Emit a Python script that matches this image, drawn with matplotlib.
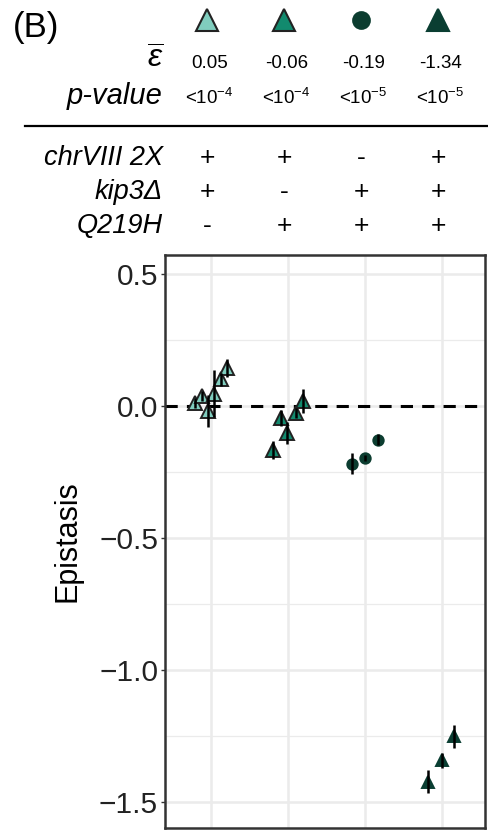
import matplotlib
matplotlib.use('Agg')
import matplotlib.pyplot as plt
import matplotlib.transforms as mtransforms
from matplotlib.lines import Line2D

plt.rcParams['font.family'] = ['Liberation Sans', 'DejaVu Sans']
plt.rcParams['mathtext.fontset'] = 'custom'
plt.rcParams['mathtext.rm'] = 'Liberation Sans'
plt.rcParams['mathtext.it'] = 'Liberation Sans:italic'

# genotype groups (one per column)
colors = ['#80cdbe', '#128a6e', '#0c3d30', '#0a3e32']
markers = ['^', '^', 'o', '^']
mean_eps = ['0.05', '-0.06', '-0.19', '-1.34']
p_values = ['<10$^{-4}$', '<10$^{-4}$', '<10$^{-5}$', '<10$^{-5}$']
row_names = ['chrVIII 2X', 'kip3\u0394', 'Q219H']
row_signs = [['+', '+', '-', '+'],
             ['+', '-', '+', '+'],
             ['-', '+', '+', '+']]

# replicate epistasis estimates
g1_x = [0.79, 0.88, 0.96, 1.04, 1.13, 1.21]
g1_y = [0.011, 0.038, -0.019, 0.047, 0.102, 0.144]
g1_err = [0.018, 0.02, 0.06, 0.09, 0.025, 0.035]

g2_x = [1.805, 1.91, 1.987, 2.10, 2.195]
g2_y = [-0.167, -0.046, -0.102, -0.027, 0.019]
g2_err = [0.035, 0.03, 0.04, 0.02, 0.045]

g3_x = [2.83, 3.0, 3.17]
g3_y = [-0.218, -0.197, -0.127]
g3_err = [0.04, 0.01, 0.02]

g4_x = [3.82, 4.0, 4.16]
g4_y = [-1.424, -1.344, -1.253]
g4_err = [0.045, 0.028, 0.045]

groups = [(g1_x, g1_y, g1_err), (g2_x, g2_y, g2_err),
          (g3_x, g3_y, g3_err), (g4_x, g4_y, g4_err)]

W, H = 489, 832
fig = plt.figure(figsize=(W / 100, H / 100), dpi=100)
ax = fig.add_axes([165 / W, 4 / H, 320 / W, 573 / H])


def fy(py):
    return 1 - py / H


# panel
ax.set_xlim(0.403, 4.56)
ax.set_ylim(-1.60, 0.573)
ax.set_xticks([1, 2, 3, 4])
ax.set_xticklabels([])
ax.set_yticks([0.5, 0.0, -0.5, -1.0, -1.5])
ax.set_yticks([0.25, -0.25, -0.75, -1.25], minor=True)
ax.tick_params(axis='x', length=0)
ax.tick_params(axis='y', which='major', length=3, width=1, color='#333333',
               labelsize=21.5, labelcolor='#222222', pad=2)
ax.tick_params(axis='y', which='minor', length=0)
ax.grid(True, which='major', color='#ebebeb', lw=1.8, zorder=0)
ax.grid(True, which='minor', axis='y', color='#ebebeb', lw=0.9, zorder=0)
ax.set_axisbelow(True)
for s in ax.spines.values():
    s.set_color('#333333')
    s.set_linewidth(1.8)
ax.set_ylabel('Epistasis', fontsize=22, labelpad=12)

ax.axhline(0, color='black', lw=2.2, ls=(0, (4, 3)), zorder=1)

sizes = [10.5, 10.5, 7.5, 9]
for (xs, ys, es), c, m, ms in zip(groups, colors, markers, sizes):
    edge = '#222222' if m == '^' and c in colors[:2] else c
    ax.plot(xs, ys, ls='none', marker=m, ms=ms, mfc=c, mec=edge, mew=1.4,
            zorder=3)
    ax.errorbar(xs, ys, yerr=es, fmt='none', ecolor='black', elinewidth=1.8,
                capsize=0, zorder=4)

# header table above the panel
trans = mtransforms.blended_transform_factory(ax.transData, fig.transFigure)
leg_sizes = [16, 16, 12, 16]
for i in range(4):
    x = i + 1
    edge = '#222222' if i < 2 else colors[i]
    ax.plot([x - 0.05], [fy(20)], marker=markers[i], ms=leg_sizes[i],
            mfc=colors[i], mec=edge, mew=1.5, transform=trans, clip_on=False)
    ax.text(x - 0.02, fy(64), mean_eps[i], transform=trans, ha='center',
            va='center', fontsize=13.5)
    ax.text(x - 0.02, fy(98), p_values[i], transform=trans, ha='center',
            va='center', fontsize=13.5)
    for r in range(3):
        ax.text(x - 0.05, fy(158 + r * 34), row_signs[r][i], transform=trans,
                ha='center', va='center', fontsize=19)

fig.text(13 / W, fy(27), '(B)', fontsize=25, va='center', ha='left')
fig.text(163 / W, fy(60), r'$\overline{\varepsilon}$', fontsize=23,
         ha='right', va='center')
fig.text(163 / W, fy(96), 'p-value', fontsize=21, style='italic',
         ha='right', va='center')
for r, name in enumerate(row_names):
    fig.text(163 / W, fy(158 + r * 34), name, fontsize=19.5, style='italic',
             ha='right', va='center')

fig.add_artist(Line2D([25 / W, 1.0], [fy(126), fy(126)], color='black',
                      lw=1.6, transform=fig.transFigure))

fig.savefig('out.png', dpi=100)
